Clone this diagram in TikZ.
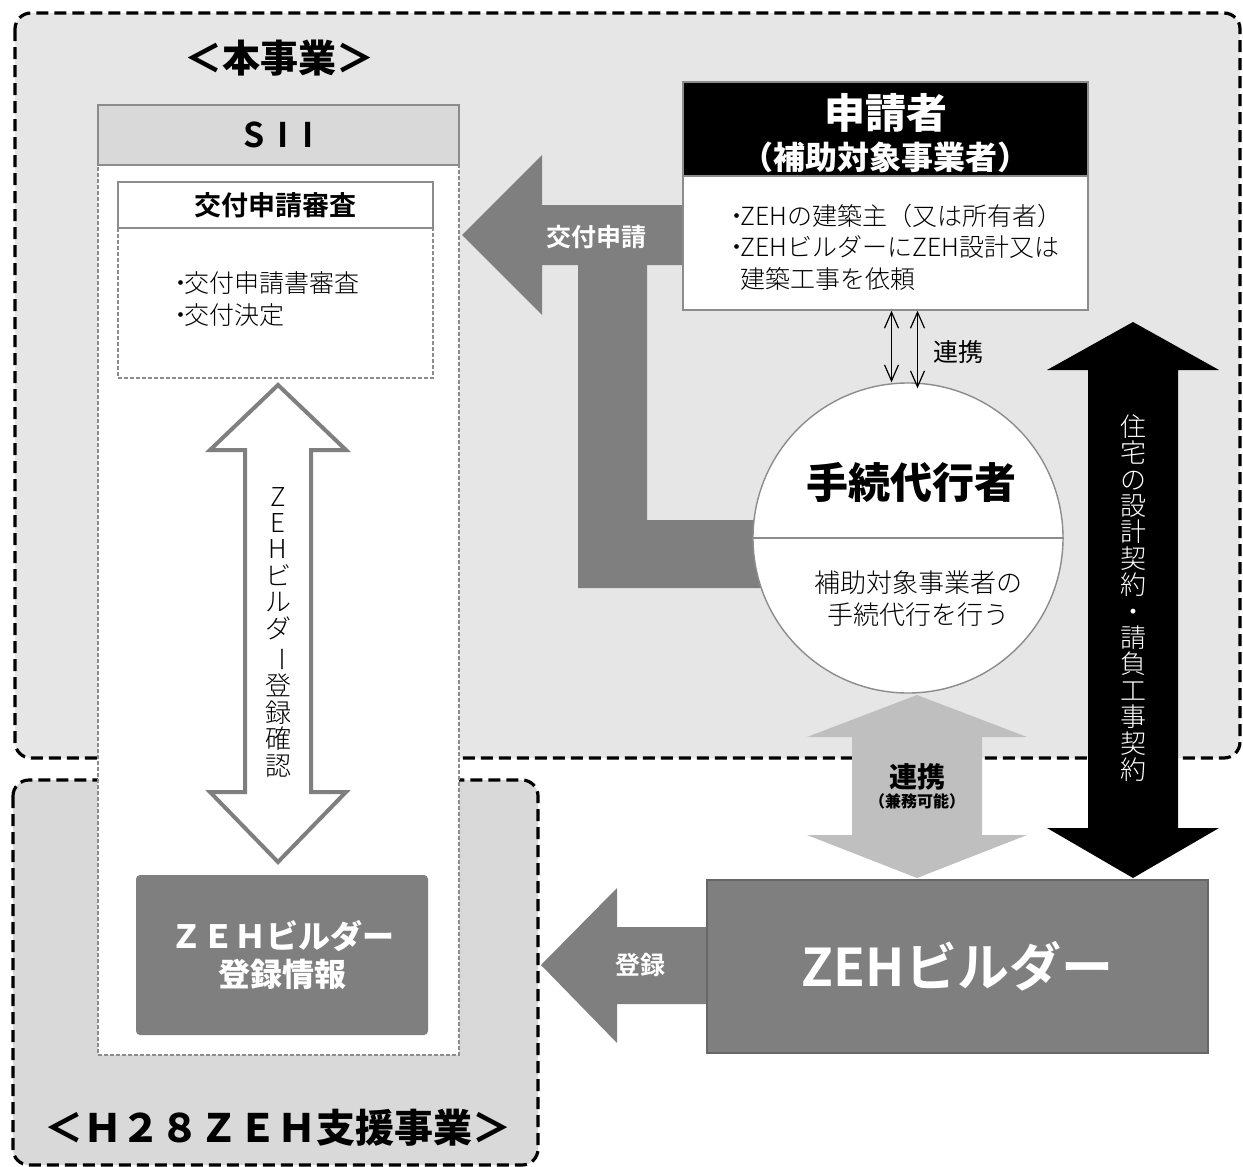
\documentclass[tikz,border=0pt]{standalone}
\usepackage{fontspec}
\newfontfamily\jpfont{Noto Sans CJK JP}
\newfontfamily\jplight{Noto Sans CJK JP Light}
\newfontfamily\jpbold{Noto Sans CJK JP Bold}
\newfontfamily\jpblack{Noto Sans CJK JP Black}
\usetikzlibrary{positioning, shapes, arrows, arrows.meta}

\definecolor{boxgray}{HTML}{7F7F7F}
\definecolor{arrowlight}{HTML}{BFBFBF}
\definecolor{palegray}{HTML}{D9D9D9}
\definecolor{dotgray}{HTML}{E6E6E6}
\definecolor{linegray}{HTML}{8C8C8C}

\tikzset{
  region/.style={draw=black, line width=1.6pt, dash pattern=on 6pt off 3pt, rounded corners=8pt},
  frame/.style={draw=linegray, line width=0.7pt, inner sep=0pt},
  dashframe/.style={draw=linegray, line width=0.6pt, dash pattern=on 2pt off 1pt, inner sep=0pt},
  bodytext/.style={font=\jplight\fontsize{12.5}{16}\selectfont, align=left, inner sep=0pt},
  headtext/.style={font=\jpbold\fontsize{13.5}{16}\selectfont, inner sep=0pt},
  arrowtext/.style={font=\jpbold\fontsize{12.5}{15}\selectfont, text=white, inner sep=0pt},
  titletext/.style={font=\jpblack\fontsize{19}{22}\selectfont, inner sep=0pt},
  uptext/.style={font=\jplight\fontsize{13}{13.2}\selectfont, align=center, inner sep=0pt},
  link/.style={{Straight Barb[length=8pt, width=7pt]}-{Straight Barb[length=8pt, width=7pt]}, line width=0.6pt}
}
\newcommand{\dotmark}{・\kern-0.35em}

\begin{document}
\begin{tikzpicture}[x=0.5pt, y=-0.5pt]
\useasboundingbox (0,0) rectangle (1243,1167);

% regions
\draw[region, fill=dotgray] (15,13) rectangle (1240,758);
\draw[region, fill=palegray] (13,780) rectangle (538,1165);
\node[titletext] (honji) at (279,58) {＜本事業＞};
\node[titletext, font=\jpblack\fontsize{19.5}{22}\selectfont] (h28) at (278,1128) {＜Ｈ２８ＺＥＨ支援事業＞};

% SII
\node[dashframe, fill=white, minimum width=180.5pt, minimum height=475pt] (sii) at (278.5,580) {};
\node[frame, fill=palegray, minimum width=180.5pt, minimum height=30pt, font=\jpbold\fontsize{17}{20}\selectfont] (siihead) at (278.5,135) {S\hspace{0.4em}I\hspace{0.4em}I};
\node[frame, fill=white, minimum width=157.5pt, minimum height=23pt] (shinsahead) at (275.5,205) {};
\node[headtext] at (shinsahead) {交付申請審査};
\node[dashframe, minimum width=157.5pt, minimum height=75pt] (shinsa) at (275.5,303) {};
\node[bodytext, anchor=west] (shinsatext) at (168,299) {\dotmark 交付申請書審査\\\dotmark 交付決定};

% hollow double arrow
\draw[draw=boxgray, fill=white, line width=2pt, line join=miter]
  (278,385) -- (346,450) -- (311,450) -- (311,792) -- (346,792) -- (278,862)
  -- (210,792) -- (245,792) -- (245,450) -- (210,450) -- cycle;
\node[uptext] (kakunin) at (278,632) {Z\\E\\H\\ビ\\ル\\ダ\\\rotatebox[origin=c]{-90}{ー}\\登\\録\\確\\認};

\node[fill=boxgray, rounded corners=2pt, minimum width=146pt, minimum height=80pt, inner sep=0pt,
  font=\jpblack\fontsize{16}{19}\selectfont, text=white, align=center] (tourokuinfo) at (282,955) {ＺＥＨビルダー\\登録情報};

% application arrow
\fill[boxgray] (462,235) -- (542,155) -- (542,205) -- (690,205) -- (690,265) -- (647,265)
  -- (647,520) -- (790,520) -- (790,588) -- (578,588) -- (578,265) -- (542,265) -- (542,315) -- cycle;
\node[arrowtext] (koufu) at (596,237) {交付申請};

% applicant
\node[frame, fill=white, minimum width=202.5pt, minimum height=114pt] (shinseibody) at (885.5,196) {};
\node[frame, fill=black, minimum width=202.5pt, minimum height=47pt] (shinseihead) at (885.5,129) {};
\node[titletext, text=white, font=\jpblack\fontsize{20.5}{24}\selectfont] (shinsei) at (885.5,113) {申請者};
\node[titletext, text=white, font=\jpblack\fontsize{16}{20}\selectfont] (shinseisub) at (885.5,157) {（補助対象事業者）};
\node[bodytext, anchor=west, font=\jplight\fontsize{12.5}{15.75}\selectfont] (shinseitext) at (724,247)
  {\dotmark ZEHの建築主（又は所有者）\\\dotmark ZEHビルダーにZEH設計又は\\\hspace{0.65em}建築工事を依頼};

% agent
\node[circle, frame, fill=white, minimum size=155pt] (daiko) at (908,538) {};
\draw[linegray, line width=0.7pt] (daiko.west) -- (daiko.east);
\node[titletext, font=\jpblack\fontsize{21}{24}\selectfont] (daikotitle) at (911,482) {手続代行者};
\node[bodytext, align=center, font=\jplight\fontsize{13}{16}\selectfont] (daikotext) at (918,599) {補助対象事業者の\\手続代行を行う};

\draw[link] ([xshift=3pt]shinseibody.south) -- ([xshift=3pt]shinseibody.south |- daiko.north);
\draw[link] ([xshift=16pt]shinseibody.south) -- ([xshift=16pt, yshift=-3pt]shinseibody.south |- daiko.north);
\node[font=\jpfont\fontsize{12.5}{15}\selectfont, inner sep=0pt, anchor=west] (renkei) at (933,352) {連携};

% contract arrow
\fill[black] (1133,322) -- (1219,370) -- (1178,370) -- (1178,828) -- (1219,828) -- (1133,878)
  -- (1047,828) -- (1088,828) -- (1088,370) -- (1047,370) -- cycle;
\node[uptext, text=white] (keiyaku) at (1133,598) {住\\宅\\の\\設\\計\\契\\約\\・\\請\\負\\工\\事\\契\\約};

% cooperation arrow
\fill[arrowlight] (917,695) -- (1027,737) -- (982,737) -- (982,835) -- (1027,835) -- (917,878)
  -- (807,835) -- (852,835) -- (852,737) -- (807,737) -- cycle;
\node[font=\jpblack\fontsize{14}{16}\selectfont, inner sep=0pt] (kenmu) at (917,777) {連携};
\node[font=\jpblack\fontsize{8}{10}\selectfont, inner sep=0pt, below=1pt of kenmu] (kenmusub) {（兼務可能）};

% builder
\node[draw=black!60, line width=0.8pt, fill=boxgray, minimum width=250.5pt, minimum height=86.5pt, inner sep=0pt,
  font=\jpbold\fontsize{26}{30}\selectfont, text=white] (builder) at (957.5,966.5) {ZEHビルダー};
\fill[boxgray] (541,965) -- (617,888) -- (617,927) -- (builder.west |- 0,927) -- (builder.west |- 0,1004)
  -- (617,1004) -- (617,1043) -- cycle;
\node[arrowtext] (touroku) at (640,965) {登録};
\end{tikzpicture}
\end{document}
